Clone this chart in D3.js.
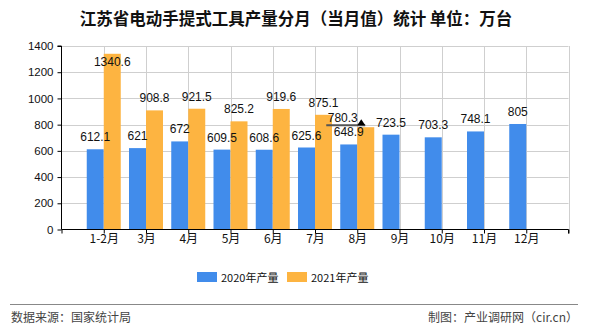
<!DOCTYPE html>
<html><head><meta charset="utf-8">
<script src="https://cdn.jsdelivr.net/npm/d3@7"></script>
<style>body{margin:0;background:#fff}</style>
</head><body>
<svg id="c" width="590" height="330"></svg>
<script>
const categories = ["1-2月","3月","4月","5月","6月","7月","8月","9月","10月","11月","12月"];
const values2020 = [612.1,621,672,609.5,608.6,625.6,648.9,723.5,703.3,748.1,805];
const values2021 = [1340.6,908.8,921.5,825.2,919.6,875.1,780.3];
const labels2020 = ["612.1","621","672","609.5","608.6","625.6","648.9","723.5","703.3","748.1","805"];
const labels2021 = ["1340.6","908.8","921.5","825.2","919.6","875.1","780.3"];
const yTicks = [0,200,400,600,800,1000,1200,1400];
const seriesNames = ["2020年产量","2021年产量"];
const colors = ["#418CEB","#FDB441"];

const svg = d3.select("#c");
const L = 61.5, R = 568.5, T = 46, B = 229.5;
const x = d3.scaleLinear().domain([0, categories.length + 1]).range([L, R]);
const y = d3.scaleLinear().domain([0, 1400]).range([B, T]);
const bw = 17;

svg.append("text").attr("x", 296).attr("y", 25).attr("text-anchor","middle")
  .attr("font-family","'Noto Sans CJK SC'").attr("font-size",16.5).attr("font-weight","bold")
  .attr("fill","#111").text("江苏省电动手提式工具产量分月（当月值）统计 单位：万台");

// grid
const g = svg.append("g");
g.selectAll("line.h").data(yTicks.slice(1)).join("line")
  .attr("x1", L).attr("x2", R).attr("y1", d => Math.round(y(d))+0.5).attr("y2", d => Math.round(y(d))+0.5)
  .attr("stroke","#cfcfcf").attr("stroke-width",1);
const vt = d3.range(1, categories.length + 2);
g.selectAll("line.v").data(vt).join("line")
  .attr("x1", d => Math.round(x(d))+0.5).attr("x2", d => Math.round(x(d))+0.5).attr("y1", T).attr("y2", B)
  .attr("stroke","#cfcfcf").attr("stroke-width",1);

// bars
svg.append("g").selectAll("rect").data(values2020).join("rect")
  .attr("x", (d,i) => x(i+1) - bw).attr("width", bw)
  .attr("y", d => y(d)).attr("height", d => B - y(d)).attr("fill", colors[0]);
svg.append("g").selectAll("rect").data(values2021).join("rect")
  .attr("x", (d,i) => x(i+1)).attr("width", bw)
  .attr("y", d => y(d)).attr("height", d => B - y(d)).attr("fill", colors[1]);

// axes
const yAxis = d3.axisLeft(y).tickValues(yTicks).tickSize(4).tickFormat(d3.format("d"));
const ya = svg.append("g").attr("transform", `translate(${L},0)`).call(yAxis);
ya.select(".domain").attr("stroke","#000").attr("d", `M-4,${T}H0V${B}`);
ya.selectAll("text").attr("font-family","'Liberation Sans'").attr("font-size",11.5).attr("fill","#111").attr("dx",-1);

const xAxis = d3.axisBottom(x).tickValues(d3.range(0, categories.length + 2)).tickSize(4)
  .tickFormat(d => (d >= 1 && d <= categories.length) ? categories[d-1] : "");
const xa = svg.append("g").attr("transform", `translate(0,${B})`).call(xAxis);
xa.select(".domain").attr("stroke","#000").attr("d", `M${L},0H${R}V4`);
xa.selectAll("text").attr("font-family","'Noto Sans CJK SC'").attr("font-size",12).attr("fill","#111").attr("dy","0.55em");

// labels
const lf = "'Liberation Sans'";
svg.append("g").selectAll("text").data(values2020).join("text")
  .attr("x", (d,i) => x(i+1) - bw/2).attr("y", d => y(d) - 8)
  .attr("text-anchor","middle").attr("font-family",lf).attr("font-size",12).attr("fill","#111")
  .text((d,i) => labels2020[i]);
svg.append("g").selectAll("text").data(values2021).join("text")
  .attr("x", (d,i) => x(i+1) + bw/2 - (i === 6 ? 23 : 0))
  .attr("y", (d,i) => i === 6 ? y(d) - 5 : Math.max(y(d) - 8, T + 20))
  .attr("text-anchor","middle").attr("font-family",lf).attr("font-size",12).attr("fill","#111")
  .text((d,i) => labels2021[i]);

// annotation arrow near 8月
const ax = x(7), ay = y(values2021[6]) - 2;
svg.append("line").attr("x1", ax - 31).attr("x2", ax + 8).attr("y1", ay).attr("y2", ay)
  .attr("stroke","#555").attr("stroke-width",2);
svg.append("path").attr("d", `M${ax+4},${ay-6}L${ax},${ay}L${ax+8},${ay}Z`).attr("fill","#000");

// legend
const lg = svg.append("g");
[0,1].forEach(i => {
  const lx = 197 + i*90;
  lg.append("rect").attr("x", lx).attr("y", 272).attr("width", 20).attr("height", 10).attr("fill", colors[i]);
  lg.append("text").attr("x", lx + 24).attr("y", 281.5).attr("font-family","'Noto Sans CJK SC'")
    .attr("font-size",11).attr("fill","#111").text(seriesNames[i]);
});

// footer
svg.append("line").attr("x1",10).attr("x2",578).attr("y1",304.5).attr("y2",304.5).attr("stroke","#888").attr("stroke-width",1);
svg.append("text").attr("x",11).attr("y",322).attr("font-family","'Noto Sans CJK SC'").attr("font-size",12)
  .attr("fill","#444").text("数据来源：国家统计局");
svg.append("text").attr("x",578).attr("y",322).attr("text-anchor","end").attr("font-family","'Noto Sans CJK SC'").attr("font-size",12)
  .attr("fill","#444").text("制图：产业调研网（cir.cn）");
</script>
</body></html>
